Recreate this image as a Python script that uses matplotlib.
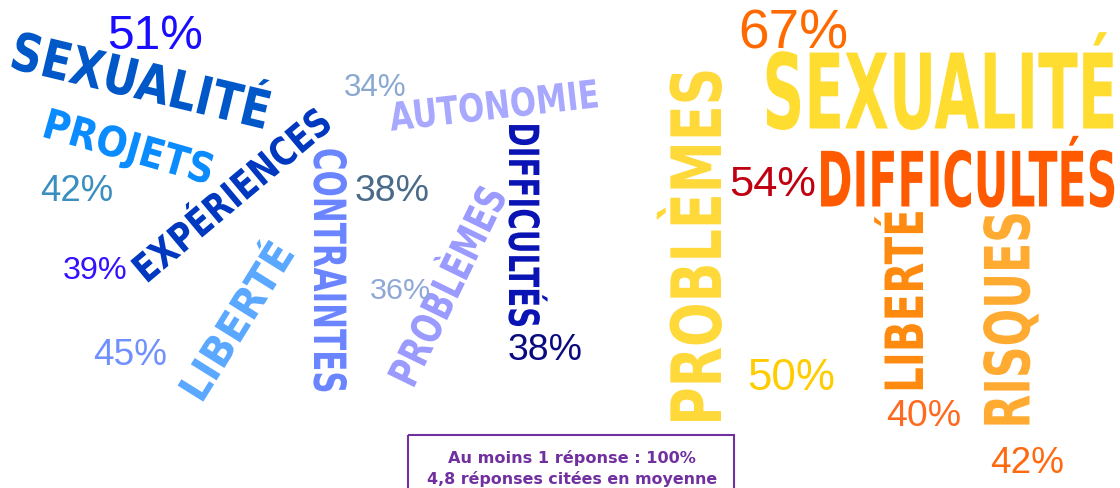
import matplotlib
matplotlib.use("Agg")
import matplotlib.pyplot as plt
import matplotlib.font_manager as fm
from matplotlib.patheffects import AbstractPathEffect
from matplotlib.transforms import Affine2D
from matplotlib.patches import Rectangle
import numpy as np

# ---------------- data ----------------
blue_words = ["SEXUALITÉ", "PROJETS", "EXPÉRIENCES", "LIBERTÉ",
              "CONTRAINTES", "AUTONOMIE", "DIFFICULTÉS", "PROBLÈMES"]
blue_pct = [51, 42, 39, 45, 38, 34, 38, 36]
orange_words = ["SEXUALITÉ", "DIFFICULTÉS", "PROBLÈMES", "LIBERTÉ", "RISQUES"]
orange_pct = [67, 54, 50, 40, 42]
box_lines = ["Au moins 1 réponse : 100%", "4,8 réponses citées en moyenne"]

# ---------------- styles / layout ----------------
blue_word_colors = ["#0057c8", "#0a8cff", "#0038c0", "#5aa8ff",
                    "#6a85ff", "#a8a8ff", "#0a14b4", "#9a9aff"]
blue_pct_colors = ["#1a0dff", "#3a8fc0", "#3311ff", "#7090ff",
                   "#4a6a8a", "#8aa8d0", "#0a0a80", "#90a8d8"]
orange_word_colors = ["#ffdd30", "#ff5a00", "#ffd83a", "#ff8a10", "#ffaa30"]
orange_pct_colors = ["#ff6a00", "#c00010", "#ffcc00", "#ff6a20", "#ff6a10"]

# (cx, cy, length, cap height, angle) in pixel coordinates
blue_word_layout = [(141, 81, 265, 38, -13.5), (129, 147, 176, 30, -16),
                    (231, 196, 245, 28, 40), (236, 322, 178, 30, 58),
                    (330, 272, 245, 32, -90), (494, 106, 210, 28, 6.5),
                    (524, 226, 205, 30, -90), (447, 287, 216, 30, 64)]
orange_word_layout = [(940, 92, 354, 75, 0), (967, 180, 299, 55, 0),
                      (696, 248, 357, 50, 90), (904, 302, 183, 38, 90),
                      (1007, 321, 217, 45, 90)]
# (cx, cy, width)
blue_pct_layout = [(155, 32, 96), (77, 188, 73), (95, 267, 65), (130, 352, 74),
                   (392, 188, 75), (375, 85, 63), (545, 347, 75), (400, 288, 61)]
orange_pct_layout = [(793, 29, 110), (773, 180, 87), (791, 374, 88),
                     (924, 413, 75), (1027, 460, 74)]
box_layout = [(572, 457, 247), (572, 478, 290)]
box_color = "#7030a0"

names = {f.name for f in fm.fontManager.ttflist}
word_font = "Liberation Sans Narrow" if "Liberation Sans Narrow" in names else "DejaVu Sans"
pct_font = "Liberation Sans" if "Liberation Sans" in names else "DejaVu Sans"


class Stretch(AbstractPathEffect):
    """Stretch glyphs perpendicular to the baseline about the cap middle."""
    def __init__(self, k, c=36.0):
        super().__init__()
        self.k = k
        self.c = c

    def draw_path(self, renderer, gc, tpath, affine, rgbFace=None):
        a = Affine2D().translate(0, -self.c).scale(1, self.k).translate(0, self.c) + affine
        renderer.draw_path(gc, tpath, a, rgbFace)


fig = plt.figure(figsize=(11.2, 4.89), dpi=100)
ax = fig.add_axes([0, 0, 1, 1])
ax.set_xlim(0, 1120)
ax.set_ylim(489, 0)
ax.axis("off")
renderer = fig.canvas.get_renderer()


def fit_text(s, cx, cy, length, angle, color, family, weight, cap=None, capratio=0.72):
    t = ax.text(cx, cy, s, fontsize=20, family=family, weight=weight, color=color,
                ha="center", va="baseline", rotation=0, rotation_mode="anchor")
    w = t.get_window_extent(renderer).width
    fs = 20 * length / w
    fs_px = fs * 100 / 72
    t.set_fontsize(fs)
    th = np.deg2rad(angle)
    off = capratio * fs_px / 2
    t.set_position((cx + np.sin(th) * off, cy + np.cos(th) * off))
    t.set_rotation(angle)
    if cap is not None:
        k = cap / (capratio * fs_px)
        t.set_path_effects([Stretch(k, c=capratio * 100 / 2)])
    return t


for w, c, (cx, cy, L, h, a) in zip(blue_words, blue_word_colors, blue_word_layout):
    fit_text(w, cx, cy, L, a, c, word_font, "bold", cap=h)
for w, c, (cx, cy, L, h, a) in zip(orange_words, orange_word_colors, orange_word_layout):
    fit_text(w, cx, cy, L, a, c, word_font, "bold", cap=h)

for p, c, (cx, cy, L) in zip(blue_pct, blue_pct_colors, blue_pct_layout):
    fit_text(f"{p}%", cx, cy, L, 0, c, pct_font, "normal")
for p, c, (cx, cy, L) in zip(orange_pct, orange_pct_colors, orange_pct_layout):
    fit_text(f"{p}%", cx, cy, L, 0, c, pct_font, "normal")

ax.add_patch(Rectangle((408, 436), 326, 60, fill=False, edgecolor=box_color,
                       linewidth=1.5, clip_on=False))
for s, (cx, cy, L) in zip(box_lines, box_layout):
    fit_text(s, cx, cy, L, 0, box_color, "DejaVu Sans", "bold")

fig.savefig("out.png", dpi=100)
